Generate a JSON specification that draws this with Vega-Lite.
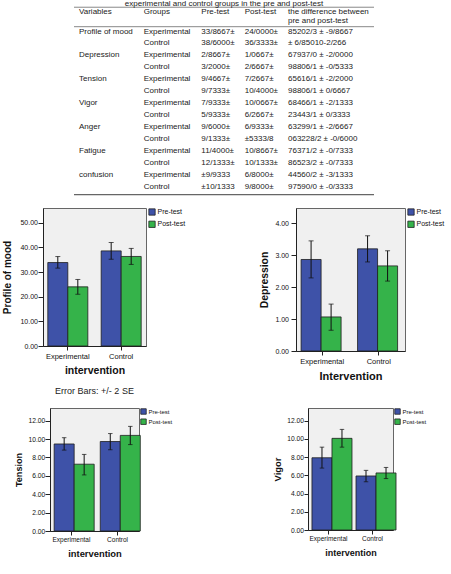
{
  "$schema": "https://vega.github.io/schema/vega-lite/v6.json",
  "background": "white",
  "padding": {"left": 2, "right": 0, "top": 0, "bottom": 0},
  "spacing": 11,
  "datasets": {
    "table": [
      {"row": 0, "column": "Variables", "text": "Variables"},
      {"row": 0, "column": "Groups", "text": "Groups"},
      {"row": 0, "column": "Pre-test", "text": "Pre-test"},
      {"row": 0, "column": "Post-test", "text": "Post-test"},
      {"row": 0, "column": "Difference", "text": "the difference between\npre and post-test"},
      {"row": 1, "column": "Variables", "text": "Profile of mood"},
      {"row": 1, "column": "Groups", "text": "Experimental"},
      {"row": 1, "column": "Pre-test", "text": "33/8667±"},
      {"row": 1, "column": "Post-test", "text": "24/0000±"},
      {"row": 1, "column": "Difference", "text": "85202/3 ± -9/8667"},
      {"row": 2, "column": "Groups", "text": "Control"},
      {"row": 2, "column": "Pre-test", "text": "38/6000±"},
      {"row": 2, "column": "Post-test", "text": "36/3333±"},
      {"row": 2, "column": "Difference", "text": "± 6/85010-2/266"},
      {"row": 3, "column": "Variables", "text": "Depression"},
      {"row": 3, "column": "Groups", "text": "Experimental"},
      {"row": 3, "column": "Pre-test", "text": "2/8667±"},
      {"row": 3, "column": "Post-test", "text": "1/0667±"},
      {"row": 3, "column": "Difference", "text": "67937/0 ± -2/0000"},
      {"row": 4, "column": "Groups", "text": "Control"},
      {"row": 4, "column": "Pre-test", "text": "3/2000±"},
      {"row": 4, "column": "Post-test", "text": "2/6667±"},
      {"row": 4, "column": "Difference", "text": "98806/1 ± -0/5333"},
      {"row": 5, "column": "Variables", "text": "Tension"},
      {"row": 5, "column": "Groups", "text": "Experimental"},
      {"row": 5, "column": "Pre-test", "text": "9/4667±"},
      {"row": 5, "column": "Post-test", "text": "7/2667±"},
      {"row": 5, "column": "Difference", "text": "65616/1 ± -2/2000"},
      {"row": 6, "column": "Groups", "text": "Control"},
      {"row": 6, "column": "Pre-test", "text": "9/7333±"},
      {"row": 6, "column": "Post-test", "text": "10/4000±"},
      {"row": 6, "column": "Difference", "text": "98806/1 ± 0/6667"},
      {"row": 7, "column": "Variables", "text": "Vigor"},
      {"row": 7, "column": "Groups", "text": "Experimental"},
      {"row": 7, "column": "Pre-test", "text": "7/9333±"},
      {"row": 7, "column": "Post-test", "text": "10/0667±"},
      {"row": 7, "column": "Difference", "text": "68466/1 ± -2/1333"},
      {"row": 8, "column": "Groups", "text": "Control"},
      {"row": 8, "column": "Pre-test", "text": "5/9333±"},
      {"row": 8, "column": "Post-test", "text": "6/2667±"},
      {"row": 8, "column": "Difference", "text": "23443/1 ± 0/3333"},
      {"row": 9, "column": "Variables", "text": "Anger"},
      {"row": 9, "column": "Groups", "text": "Experimental"},
      {"row": 9, "column": "Pre-test", "text": "9/6000±"},
      {"row": 9, "column": "Post-test", "text": "6/9333±"},
      {"row": 9, "column": "Difference", "text": "63299/1 ± -2/6667"},
      {"row": 10, "column": "Groups", "text": "Control"},
      {"row": 10, "column": "Pre-test", "text": "9/1333±"},
      {"row": 10, "column": "Post-test", "text": "±5333/8"},
      {"row": 10, "column": "Difference", "text": "063228/2 ± -0/6000"},
      {"row": 11, "column": "Variables", "text": "Fatigue"},
      {"row": 11, "column": "Groups", "text": "Experimental"},
      {"row": 11, "column": "Pre-test", "text": "11/4000±"},
      {"row": 11, "column": "Post-test", "text": "10/8667±"},
      {"row": 11, "column": "Difference", "text": "76371/2 ± -0/7333"},
      {"row": 12, "column": "Groups", "text": "Control"},
      {"row": 12, "column": "Pre-test", "text": "12/1333±"},
      {"row": 12, "column": "Post-test", "text": "10/1333±"},
      {"row": 12, "column": "Difference", "text": "86523/2 ± -0/7333"},
      {"row": 13, "column": "Variables", "text": "confusion"},
      {"row": 13, "column": "Groups", "text": "Experimental"},
      {"row": 13, "column": "Pre-test", "text": "±9/9333"},
      {"row": 13, "column": "Post-test", "text": "6/8000±"},
      {"row": 13, "column": "Difference", "text": "44560/2 ± -3/1333"},
      {"row": 14, "column": "Groups", "text": "Control"},
      {"row": 14, "column": "Pre-test", "text": "±10/1333"},
      {"row": 14, "column": "Post-test", "text": "9/8000±"},
      {"row": 14, "column": "Difference", "text": "97590/0 ± -0/3333"}
    ],
    "bars": [
      {"variable": "Profile of mood", "intervention": "Experimental", "test": "Pre-test", "mean": 33.8667, "lower": 31.6, "upper": 36.3},
      {"variable": "Profile of mood", "intervention": "Experimental", "test": "Post-test", "mean": 24.0, "lower": 21.0, "upper": 27.0},
      {"variable": "Profile of mood", "intervention": "Control", "test": "Pre-test", "mean": 38.6, "lower": 35.2, "upper": 42.0},
      {"variable": "Profile of mood", "intervention": "Control", "test": "Post-test", "mean": 36.3333, "lower": 33.1, "upper": 39.6},
      {"variable": "Depression", "intervention": "Experimental", "test": "Pre-test", "mean": 2.8667, "lower": 2.29, "upper": 3.45},
      {"variable": "Depression", "intervention": "Experimental", "test": "Post-test", "mean": 1.0667, "lower": 0.65, "upper": 1.47},
      {"variable": "Depression", "intervention": "Control", "test": "Pre-test", "mean": 3.2, "lower": 2.79, "upper": 3.61},
      {"variable": "Depression", "intervention": "Control", "test": "Post-test", "mean": 2.6667, "lower": 2.19, "upper": 3.14},
      {"variable": "Tension", "intervention": "Experimental", "test": "Pre-test", "mean": 9.4667, "lower": 8.8, "upper": 10.15},
      {"variable": "Tension", "intervention": "Experimental", "test": "Post-test", "mean": 7.2667, "lower": 6.1, "upper": 8.33},
      {"variable": "Tension", "intervention": "Control", "test": "Pre-test", "mean": 9.7333, "lower": 8.84, "upper": 10.6},
      {"variable": "Tension", "intervention": "Control", "test": "Post-test", "mean": 10.4, "lower": 9.4, "upper": 11.38},
      {"variable": "Vigor", "intervention": "Experimental", "test": "Pre-test", "mean": 7.9333, "lower": 6.8, "upper": 9.1},
      {"variable": "Vigor", "intervention": "Experimental", "test": "Post-test", "mean": 10.0667, "lower": 9.1, "upper": 11.05},
      {"variable": "Vigor", "intervention": "Control", "test": "Pre-test", "mean": 5.9333, "lower": 5.3, "upper": 6.55},
      {"variable": "Vigor", "intervention": "Control", "test": "Post-test", "mean": 6.2667, "lower": 5.65, "upper": 6.87}
    ]
  },
  "resolve": {"scale": {"color": "independent", "x": "independent", "y": "independent"}, "legend": {"color": "independent"}},
  "vconcat": [
    {
      "width": 331,
      "height": 196,
      "view": {"fill": null, "stroke": null},
      "data": {"name": "table"},
      "layer": [
        {
          "data": {"values": [{}]},
          "mark": {"type": "rule", "color": "#888", "strokeWidth": 1},
          "encoding": {
            "x": {"datum": "Variables", "type": "nominal", "bandPosition": 0, "axis": null,
                  "scale": {"type": "band", "domain": ["Variables", "Groups", "Pre-test", "Post-test", "Difference"], "range": [31, 331], "paddingInner": 0, "paddingOuter": 0}},
            "x2": {"datum": "Difference", "bandPosition": 1},
            "y": {"datum": -1.03, "type": "quantitative", "scale": {"domain": [-1.634, 14.754], "reverse": true, "nice": false, "zero": false}, "axis": null}
          }
        },
        {
          "data": {"values": [{}]},
          "mark": {"type": "rule", "color": "#888", "strokeWidth": 1},
          "encoding": {
            "x": {"datum": "Variables", "type": "nominal", "bandPosition": 0, "axis": null},
            "x2": {"datum": "Difference", "bandPosition": 1},
            "y": {"datum": 0.598, "type": "quantitative", "axis": null}
          }
        },
        {
          "data": {"values": [{}]},
          "mark": {"type": "rule", "color": "#666", "strokeWidth": 1.2},
          "encoding": {
            "x": {"datum": "Variables", "type": "nominal", "bandPosition": 0, "axis": null},
            "x2": {"datum": "Difference", "bandPosition": 1},
            "y": {"datum": 14.645, "type": "quantitative", "axis": null}
          }
        },
        {
          "data": {"values": [{}]},
          "mark": {"type": "text", "text": "experimental and control groups in the pre and post-test", "align": "center", "baseline": "alphabetic", "clip": true},
          "encoding": {
            "x": {"datum": "Pre-test", "type": "nominal", "bandPosition": 0.5, "axis": null},
            "y": {"datum": -1.174, "type": "quantitative", "axis": null}
          }
        },
        {
          "transform": [{"filter": "datum.column === 'Variables'"}],
          "encoding": {"x": {"field": "column", "type": "nominal", "bandPosition": 0, "axis": null}, "text": {"field": "text"}},
          "layer": [
            {"transform": [{"filter": "datum.row === 0"}], "mark": {"type": "text", "align": "left", "baseline": "top", "dx": 5, "lineBreak": "\n", "lineHeight": 9}, "encoding": {"y": {"datum": -0.93, "type": "quantitative", "axis": null}}},
            {"transform": [{"filter": "datum.row > 0"}], "mark": {"type": "text", "align": "left", "baseline": "middle", "dx": 5}, "encoding": {"y": {"field": "row", "type": "quantitative", "axis": null}}}
          ]
        },
        {
          "transform": [{"filter": "datum.column === 'Groups'"}],
          "encoding": {"x": {"field": "column", "type": "nominal", "bandPosition": 0, "axis": null}, "text": {"field": "text"}},
          "layer": [
            {"transform": [{"filter": "datum.row === 0"}], "mark": {"type": "text", "align": "left", "baseline": "top", "dx": 9.7, "lineBreak": "\n", "lineHeight": 9}, "encoding": {"y": {"datum": -0.93, "type": "quantitative", "axis": null}}},
            {"transform": [{"filter": "datum.row > 0"}], "mark": {"type": "text", "align": "left", "baseline": "middle", "dx": 9.7}, "encoding": {"y": {"field": "row", "type": "quantitative", "axis": null}}}
          ]
        },
        {
          "transform": [{"filter": "datum.column === 'Pre-test'"}],
          "encoding": {"x": {"field": "column", "type": "nominal", "bandPosition": 0, "axis": null}, "text": {"field": "text"}},
          "layer": [
            {"transform": [{"filter": "datum.row === 0"}], "mark": {"type": "text", "align": "left", "baseline": "top", "dx": 7.3, "lineBreak": "\n", "lineHeight": 9}, "encoding": {"y": {"datum": -0.93, "type": "quantitative", "axis": null}}},
            {"transform": [{"filter": "datum.row > 0"}], "mark": {"type": "text", "align": "left", "baseline": "middle", "dx": 7.3}, "encoding": {"y": {"field": "row", "type": "quantitative", "axis": null}}}
          ]
        },
        {
          "transform": [{"filter": "datum.column === 'Post-test'"}],
          "encoding": {"x": {"field": "column", "type": "nominal", "bandPosition": 0, "axis": null}, "text": {"field": "text"}},
          "layer": [
            {"transform": [{"filter": "datum.row === 0"}], "mark": {"type": "text", "align": "left", "baseline": "top", "dx": -9.3, "lineBreak": "\n", "lineHeight": 9}, "encoding": {"y": {"datum": -0.93, "type": "quantitative", "axis": null}}},
            {"transform": [{"filter": "datum.row > 0"}], "mark": {"type": "text", "align": "left", "baseline": "middle", "dx": -9.3}, "encoding": {"y": {"field": "row", "type": "quantitative", "axis": null}}}
          ]
        },
        {
          "transform": [{"filter": "datum.column === 'Difference'"}],
          "encoding": {"x": {"field": "column", "type": "nominal", "bandPosition": 0, "axis": null}, "text": {"field": "text"}},
          "layer": [
            {"transform": [{"filter": "datum.row === 0"}], "mark": {"type": "text", "align": "left", "baseline": "top", "dx": -26, "lineBreak": "\n", "lineHeight": 9}, "encoding": {"y": {"datum": -0.93, "type": "quantitative", "axis": null}}},
            {"transform": [{"filter": "datum.row > 0"}], "mark": {"type": "text", "align": "left", "baseline": "middle", "dx": -26}, "encoding": {"y": {"field": "row", "type": "quantitative", "axis": null}}}
          ]
        }
      ]
    },
    {
      "spacing": 72,
      "resolve": {"scale": {"color": "independent", "x": "independent", "y": "independent"}, "legend": {"color": "independent"}},
      "hconcat": [
        {
          "spacing": 62,
          "center": true,
          "bounds": "flush",
          "resolve": {"scale": {"color": "independent", "x": "independent", "y": "independent"}, "legend": {"color": "independent"}},
          "vconcat": [
            {
              "width": 103,
              "height": 138,
              "view": {"fill": "#f0f0f0", "stroke": "#666"},
              "data": {"name": "bars"},
              "transform": [{"filter": "datum.variable === 'Profile of mood'"}],
              "title": {"text": "Error Bars: +/- 2 SE", "orient": "bottom", "anchor": "middle", "frame": "group", "fontSize": 9, "fontWeight": "normal", "color": "#222", "offset": 11},
              "encoding": {
                "x": {"field": "intervention", "type": "nominal", "sort": ["Experimental", "Control"], "scale": {"paddingInner": 0.25, "paddingOuter": 0.09},
                      "axis": {"title": "intervention", "labelAngle": 0, "labelFontSize": 7.5, "tickSize": 4, "labelPadding": 2, "titleFontSize": 10.5, "titlePadding": 6}},
                "xOffset": {"field": "test", "type": "nominal", "sort": ["Pre-test", "Post-test"]}
              },
              "layer": [
                {
                  "mark": {"type": "bar", "stroke": "#1e1e1e", "strokeWidth": 0.8},
                  "encoding": {
                    "y": {"field": "mean", "type": "quantitative", "scale": {"domain": [0, 56], "nice": false},
                          "axis": {"title": "Profile of mood", "values": [0, 10, 20, 30, 40, 50], "format": ".2f", "labelOverlap": false, "labelFontSize": 7, "tickSize": 5, "labelPadding": 0.5, "titleFontSize": 10, "titlePadding": 7}},
                    "color": {"field": "test", "type": "nominal", "sort": ["Pre-test", "Post-test"], "scale": {"domain": ["Pre-test", "Post-test"], "range": ["#3e52a8", "#35b34a"]},
                              "legend": {"title": null, "labelFontSize": 7, "symbolSize": 40, "rowPadding": 2.3, "labelOffset": 1.5, "offset": 1.5}}
                  }
                },
                {"mark": {"type": "rule", "color": "#111", "strokeWidth": 1}, "encoding": {"y": {"field": "lower", "type": "quantitative", "axis": {"title": "Profile of mood", "values": [0, 10, 20, 30, 40, 50], "format": ".2f", "labelOverlap": false, "labelFontSize": 7, "tickSize": 5, "labelPadding": 0.5, "titleFontSize": 10, "titlePadding": 7}}, "y2": {"field": "upper"}}},
                {"mark": {"type": "tick", "color": "#111", "size": 5, "thickness": 1}, "encoding": {"y": {"field": "lower", "type": "quantitative", "axis": {"title": "Profile of mood", "values": [0, 10, 20, 30, 40, 50], "format": ".2f", "labelOverlap": false, "labelFontSize": 7, "tickSize": 5, "labelPadding": 0.5, "titleFontSize": 10, "titlePadding": 7}}}},
                {"mark": {"type": "tick", "color": "#111", "size": 5, "thickness": 1}, "encoding": {"y": {"field": "upper", "type": "quantitative", "axis": {"title": "Profile of mood", "values": [0, 10, 20, 30, 40, 50], "format": ".2f", "labelOverlap": false, "labelFontSize": 7, "tickSize": 5, "labelPadding": 0.5, "titleFontSize": 10, "titlePadding": 7}}}}
              ]
            },
            {
              "width": 89,
              "height": 123,
              "view": {"fill": "#f0f0f0", "stroke": "#666"},
              "data": {"name": "bars"},
              "transform": [{"filter": "datum.variable === 'Tension'"}],
              "encoding": {
                "x": {"field": "intervention", "type": "nominal", "sort": ["Experimental", "Control"], "scale": {"paddingInner": 0.25, "paddingOuter": 0.09},
                      "axis": {"title": "intervention", "labelAngle": 0, "labelFontSize": 6.5, "tickSize": 4, "labelPadding": 1, "titleFontSize": 9.4, "titlePadding": 6.6}},
                "xOffset": {"field": "test", "type": "nominal", "sort": ["Pre-test", "Post-test"]}
              },
              "layer": [
                {
                  "mark": {"type": "bar", "stroke": "#1e1e1e", "strokeWidth": 0.8},
                  "encoding": {
                    "y": {"field": "mean", "type": "quantitative", "scale": {"domain": [0, 13.38], "nice": false},
                          "axis": {"title": "Tension", "values": [0, 2, 4, 6, 8, 10, 12], "format": ".2f", "labelOverlap": false, "labelFontSize": 6.7, "tickSize": 5, "labelPadding": 0.3, "titleFontSize": 9.1, "titlePadding": 4.5}},
                    "color": {"field": "test", "type": "nominal", "sort": ["Pre-test", "Post-test"], "scale": {"domain": ["Pre-test", "Post-test"], "range": ["#3e52a8", "#35b34a"]},
                              "legend": {"title": null, "labelFontSize": 6, "symbolSize": 30, "rowPadding": 1.2, "labelOffset": 1.5, "offset": 1}}
                  }
                },
                {"mark": {"type": "rule", "color": "#111", "strokeWidth": 1}, "encoding": {"y": {"field": "lower", "type": "quantitative", "axis": {"title": "Tension", "values": [0, 2, 4, 6, 8, 10, 12], "format": ".2f", "labelOverlap": false, "labelFontSize": 6.7, "tickSize": 5, "labelPadding": 0.3, "titleFontSize": 9.1, "titlePadding": 4.5}}, "y2": {"field": "upper"}}},
                {"mark": {"type": "tick", "color": "#111", "size": 4.5, "thickness": 1}, "encoding": {"y": {"field": "lower", "type": "quantitative", "axis": {"title": "Tension", "values": [0, 2, 4, 6, 8, 10, 12], "format": ".2f", "labelOverlap": false, "labelFontSize": 6.7, "tickSize": 5, "labelPadding": 0.3, "titleFontSize": 9.1, "titlePadding": 4.5}}}},
                {"mark": {"type": "tick", "color": "#111", "size": 4.5, "thickness": 1}, "encoding": {"y": {"field": "upper", "type": "quantitative", "axis": {"title": "Tension", "values": [0, 2, 4, 6, 8, 10, 12], "format": ".2f", "labelOverlap": false, "labelFontSize": 6.7, "tickSize": 5, "labelPadding": 0.3, "titleFontSize": 9.1, "titlePadding": 4.5}}}}
              ]
            }
          ]
        },
        {
          "spacing": 57,
          "center": true,
          "bounds": "flush",
          "resolve": {"scale": {"color": "independent", "x": "independent", "y": "independent"}, "legend": {"color": "independent"}},
          "vconcat": [
            {
              "width": 109,
              "height": 143,
              "view": {"fill": "#f0f0f0", "stroke": "#666"},
              "data": {"name": "bars"},
              "transform": [{"filter": "datum.variable === 'Depression'"}],
              "encoding": {
                "x": {"field": "intervention", "type": "nominal", "sort": ["Experimental", "Control"], "scale": {"paddingInner": 0.25, "paddingOuter": 0.09},
                      "axis": {"title": "Intervention", "labelAngle": 0, "labelFontSize": 7.5, "tickSize": 4, "labelPadding": 2, "titleFontSize": 11, "titlePadding": 6}},
                "xOffset": {"field": "test", "type": "nominal", "sort": ["Pre-test", "Post-test"]}
              },
              "layer": [
                {
                  "mark": {"type": "bar", "stroke": "#1e1e1e", "strokeWidth": 0.8},
                  "encoding": {
                    "y": {"field": "mean", "type": "quantitative", "scale": {"domain": [0, 4.48], "nice": false},
                          "axis": {"title": "Depression", "values": [0, 1, 2, 3, 4], "format": ".2f", "labelOverlap": false, "labelFontSize": 7, "tickSize": 5, "labelPadding": 2.5, "titleFontSize": 10.4, "titlePadding": 5}},
                    "color": {"field": "test", "type": "nominal", "sort": ["Pre-test", "Post-test"], "scale": {"domain": ["Pre-test", "Post-test"], "range": ["#3e52a8", "#35b34a"]},
                              "legend": {"title": null, "labelFontSize": 7, "symbolSize": 40, "rowPadding": 2.3, "labelOffset": 1.5, "offset": 1.5}}
                  }
                },
                {"mark": {"type": "rule", "color": "#111", "strokeWidth": 1}, "encoding": {"y": {"field": "lower", "type": "quantitative", "axis": {"title": "Depression", "values": [0, 1, 2, 3, 4], "format": ".2f", "labelOverlap": false, "labelFontSize": 7, "tickSize": 5, "labelPadding": 2.5, "titleFontSize": 10.4, "titlePadding": 5}}, "y2": {"field": "upper"}}},
                {"mark": {"type": "tick", "color": "#111", "size": 5, "thickness": 1}, "encoding": {"y": {"field": "lower", "type": "quantitative", "axis": {"title": "Depression", "values": [0, 1, 2, 3, 4], "format": ".2f", "labelOverlap": false, "labelFontSize": 7, "tickSize": 5, "labelPadding": 2.5, "titleFontSize": 10.4, "titlePadding": 5}}}},
                {"mark": {"type": "tick", "color": "#111", "size": 5, "thickness": 1}, "encoding": {"y": {"field": "upper", "type": "quantitative", "axis": {"title": "Depression", "values": [0, 1, 2, 3, 4], "format": ".2f", "labelOverlap": false, "labelFontSize": 7, "tickSize": 5, "labelPadding": 2.5, "titleFontSize": 10.4, "titlePadding": 5}}}}
              ]
            },
            {
              "width": 85,
              "height": 122,
              "view": {"fill": "#f0f0f0", "stroke": "#666"},
              "data": {"name": "bars"},
              "transform": [{"filter": "datum.variable === 'Vigor'"}],
              "encoding": {
                "x": {"field": "intervention", "type": "nominal", "sort": ["Experimental", "Control"], "scale": {"paddingInner": 0.25, "paddingOuter": 0.09},
                      "axis": {"title": "intervention", "labelAngle": 0, "labelFontSize": 6.5, "tickSize": 4, "labelPadding": 1, "titleFontSize": 9, "titlePadding": 6.6}},
                "xOffset": {"field": "test", "type": "nominal", "sort": ["Pre-test", "Post-test"]}
              },
              "layer": [
                {
                  "mark": {"type": "bar", "stroke": "#1e1e1e", "strokeWidth": 0.8},
                  "encoding": {
                    "y": {"field": "mean", "type": "quantitative", "scale": {"domain": [0, 13.4], "nice": false},
                          "axis": {"title": "Vigor", "values": [0, 2, 4, 6, 8, 10, 12], "format": ".2f", "labelOverlap": false, "labelFontSize": 6.7, "tickSize": 4, "labelPadding": 0.5, "titleFontSize": 9.4, "titlePadding": 4.3}},
                    "color": {"field": "test", "type": "nominal", "sort": ["Pre-test", "Post-test"], "scale": {"domain": ["Pre-test", "Post-test"], "range": ["#3e52a8", "#35b34a"]},
                              "legend": {"title": null, "labelFontSize": 6, "symbolSize": 30, "rowPadding": 1.2, "labelOffset": 1.5, "offset": 1}}
                  }
                },
                {"mark": {"type": "rule", "color": "#111", "strokeWidth": 1}, "encoding": {"y": {"field": "lower", "type": "quantitative", "axis": {"title": "Vigor", "values": [0, 2, 4, 6, 8, 10, 12], "format": ".2f", "labelOverlap": false, "labelFontSize": 6.7, "tickSize": 4, "labelPadding": 0.5, "titleFontSize": 9.4, "titlePadding": 4.3}}, "y2": {"field": "upper"}}},
                {"mark": {"type": "tick", "color": "#111", "size": 4.5, "thickness": 1}, "encoding": {"y": {"field": "lower", "type": "quantitative", "axis": {"title": "Vigor", "values": [0, 2, 4, 6, 8, 10, 12], "format": ".2f", "labelOverlap": false, "labelFontSize": 6.7, "tickSize": 4, "labelPadding": 0.5, "titleFontSize": 9.4, "titlePadding": 4.3}}}},
                {"mark": {"type": "tick", "color": "#111", "size": 4.5, "thickness": 1}, "encoding": {"y": {"field": "upper", "type": "quantitative", "axis": {"title": "Vigor", "values": [0, 2, 4, 6, 8, 10, 12], "format": ".2f", "labelOverlap": false, "labelFontSize": 6.7, "tickSize": 4, "labelPadding": 0.5, "titleFontSize": 9.4, "titlePadding": 4.3}}}}
              ]
            }
          ]
        }
      ]
    }
  ],
  "config": {
    "font": "Liberation Sans",
    "text": {"font": "Liberation Sans", "fontSize": 8, "color": "#222"},
    "axis": {"labelFont": "Liberation Sans", "titleFont": "Liberation Sans", "labelColor": "#111", "titleColor": "#111", "titleFontWeight": "bold", "domainColor": "#222", "tickColor": "#222", "grid": false},
    "legend": {"labelFont": "Liberation Sans", "labelColor": "#111", "symbolType": "square", "padding": 0, "symbolStrokeColor": "#222", "symbolStrokeWidth": 0.8, "orient": "right"},
    "title": {"font": "Liberation Sans"}
  }
}
